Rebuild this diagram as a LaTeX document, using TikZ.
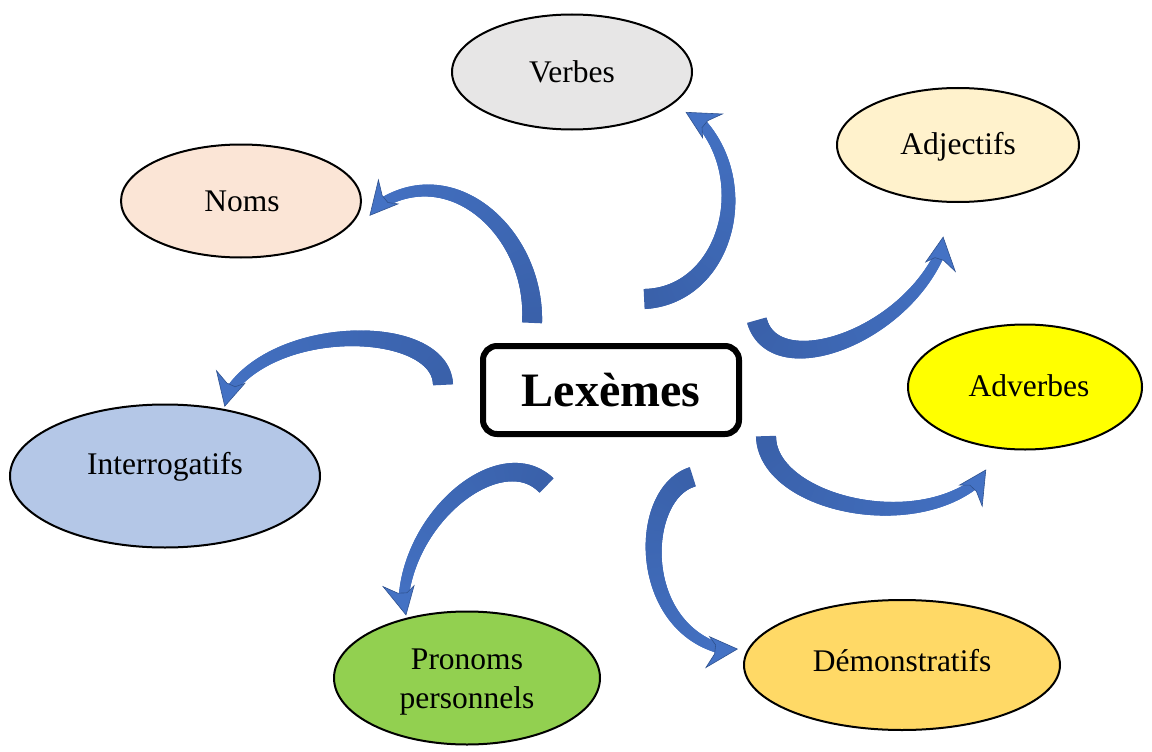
\documentclass[tikz,border=0pt]{standalone}
\usepackage{fontspec}
\setmainfont{Liberation Serif}
\usetikzlibrary{decorations.markings,shapes.geometric}
\definecolor{armdark}{HTML}{35599E}
\definecolor{armlight}{HTML}{4472C4}
\definecolor{armedge}{HTML}{2F528F}
\definecolor{cverbes}{HTML}{E7E6E6}
\definecolor{cadj}{HTML}{FFF2CC}
\definecolor{cnoms}{HTML}{FBE5D6}
\definecolor{cadv}{HTML}{FFFF00}
\definecolor{cinter}{HTML}{B4C7E7}
\definecolor{cpron}{HTML}{92D050}
\definecolor{cdem}{HTML}{FFD966}
\tikzset{
  bubble/.style={ellipse, draw=black, line width=2pt, inner sep=0pt},
  lbl/.style={font=\fontsize{31.5}{39}\selectfont, inner sep=0pt, align=center},
  bentarrow/.style={
    postaction={decorate,
      decoration={markings,
        mark=between positions 0 and 1 step 0.7pt with {%
          \pgfmathsetmacro\armd{\pgfkeysvalueof{/pgf/decoration/mark info/distance from start}}%
          \pgfmathsetmacro\armL{\pgfdecoratedpathlength}%
          \pgfmathsetmacro\armlim{\armL-21}%
          \pgfmathsetmacro\armt{\armd/\armL}%
          \pgfmathsetmacro\armw{10-5.5*\armt}%
          \pgfmathsetmacro\armc{30+70*\armt}%
          \ifdim\armd pt<\armlim pt
            \fill[armlight!\armc!armdark] (-0.9,-\armw) rectangle (0.9,\armw);
          \fi
        }}},
    postaction={decorate,
      decoration={markings,
        mark=at position 0.9999 with {%
          \fill[armlight, draw=armedge, line width=0.6pt, line join=miter]
            (0,-3) -- (-29,19) -- (-22,4.5) -- (-22,-4.5) -- (-29,-12) -- cycle;
        }}}
  }
}
\begin{document}
\begin{tikzpicture}[x=1pt,y=-1pt]
\useasboundingbox (0,0) rectangle (1152,752);

% ellipses
\node[bubble, fill=cverbes, minimum width=240, minimum height=115] (verbes) at (572,72) {};
\node[bubble, fill=cadj, minimum width=242, minimum height=114] (adj) at (958,145) {};
\node[bubble, fill=cnoms, minimum width=240, minimum height=113] (noms) at (241,201) {};
\node[bubble, fill=cadv, minimum width=234, minimum height=125] (adv) at (1025,387) {};
\node[bubble, fill=cinter, minimum width=310, minimum height=143] (inter) at (165,476) {};
\node[bubble, fill=cpron, minimum width=266, minimum height=133] (pron) at (467,678) {};
\node[bubble, fill=cdem, minimum width=316, minimum height=130] (dem) at (902,665) {};

% labels
\node[lbl] (tverbes) at (572,72) {Verbes};
\node[lbl] (tadj) at (958,147) {Adjectifs};
\node[lbl] (tnoms) at (242,201) {Noms};
\node[lbl] (tadv) at (1029,386) {Adverbes};
\node[lbl] (tinter) at (165,467) {Interrogatifs};
\node[lbl] (tpron) at (467,682) {Pronoms\\personnels};
\node[lbl] (tdem) at (902,661) {Démonstratifs};

% central box
\node[draw=black, line width=6pt, rounded corners=14pt, fill=white,
      minimum width=256, minimum height=88, inner sep=0pt,
      font=\fontsize{48}{50}\selectfont\bfseries] (lex) at (611,390) {Lexèmes};

% arrows
\coordinate (nA) at (532,322); \coordinate (nB) at (368,213);
\path[bentarrow] (nA) .. controls (536,230) and (445,150) .. (nB);

\coordinate (vA) at (645,299); \coordinate (vB) at (688,110);
\path[bentarrow] (vA) .. controls (730,295) and (760,170) .. (vB);

\coordinate (aA) at (757,321); \coordinate (aB) at (946,238);
\path[bentarrow] (aA) .. controls (775,385) and (915,335) .. (aB);

\coordinate (dA) at (766,437); \coordinate (dB) at (988,472);
\path[bentarrow] (dA) .. controls (768,505) and (925,540) .. (dB);

\coordinate (iA) at (443,384); \coordinate (iB) at (222,405);
\path[bentarrow] (iA) .. controls (440,320) and (260,320) .. (iB);

\coordinate (pA) at (546,485); \coordinate (pB) at (403,615);
\path[bentarrow] (pA) .. controls (500,440) and (400,520) .. (pB);

\coordinate (mA) at (692,477); \coordinate (mB) at (737,652);
\path[bentarrow] (mA) .. controls (635,495) and (635,640) .. (mB);
\end{tikzpicture}
\end{document}
